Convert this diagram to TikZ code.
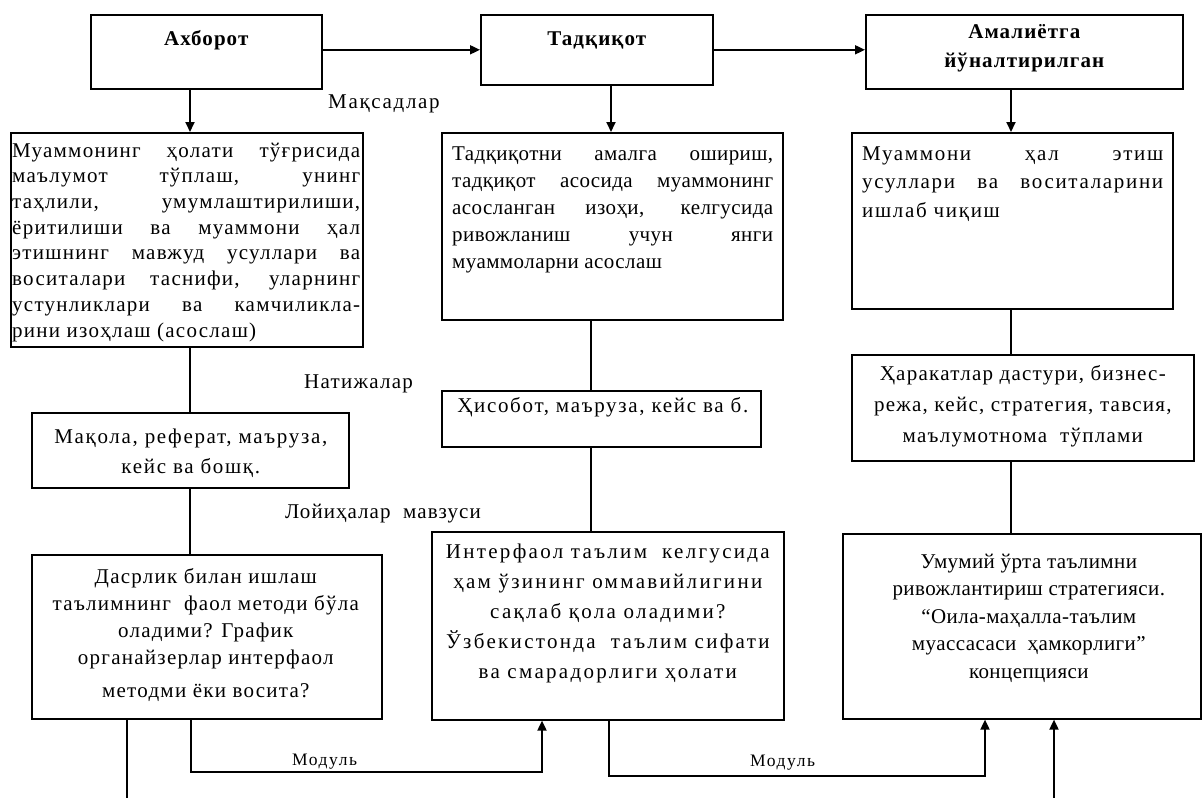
\documentclass[tikz,border=0pt]{standalone}
\usepackage{fontspec}
\setmainfont{Liberation Serif}
\usetikzlibrary{arrows.meta}
\tikzset{
  box/.style={draw, line width=1.6pt, rectangle, inner sep=0pt, anchor=north west},
  conn/.style={line width=1.5pt},
  arr/.style={line width=1.8pt, -{Triangle[length=10pt,width=9pt]}},
  txt/.style n args={3}{inner sep=0pt, font=\fontsize{#1}{#2}\selectfont\addfontfeatures{LetterSpace=#3}},
  head/.style={inner sep=0pt, font=\fontsize{21pt}{29pt}\selectfont\bfseries\addfontfeatures{LetterSpace=5}},
  lab/.style={inner sep=0pt, anchor=base west}
}
\newcommand{\jl}[2]{\makebox[#1][s]{\spaceskip=0pt\xspaceskip=0pt\strut #2}}
\begin{document}
\begin{tikzpicture}[x=1pt,y=-1pt]
\useasboundingbox (0,0) rectangle (1203,798);
\fill[white] (0,0) rectangle (1203,798);

% boxes
\node[box, minimum width=231pt, minimum height=74pt] (ax) at (90,14) {};
\node[box, minimum width=232pt, minimum height=70pt] (td) at (480,14) {};
\node[box, minimum width=317pt, minimum height=74pt] (am) at (865,14) {};
\node[box, minimum width=352pt, minimum height=214pt] (l1) at (10,132) {};
\node[box, minimum width=341pt, minimum height=187pt] (m1) at (441,132) {};
\node[box, minimum width=321pt, minimum height=176pt] (r1) at (851,132) {};
\node[box, minimum width=317pt, minimum height=75pt] (l2) at (31,412) {};
\node[box, minimum width=319pt, minimum height=56pt] (m2) at (441,390) {};
\node[box, minimum width=342pt, minimum height=106pt] (r2) at (851,354) {};
\node[box, minimum width=350pt, minimum height=164pt] (l3) at (31,554) {};
\node[box, minimum width=352pt, minimum height=188pt] (m3) at (431,531) {};
\node[box, minimum width=358pt, minimum height=185pt] (r3) at (842,533) {};

% headers
\node[head, anchor=base] (axt) at ([yshift=-31pt]ax.north) {Ахборот};
\node[head, anchor=base] (tdt) at ([yshift=-31pt]td.north) {Тадқиқот};
\node[head, anchor=north, align=center] (amt) at ([yshift=-3.7pt]am.north) {\strut Амалиётга\\\strut йўналтирилган};

% box texts
\node[txt={21pt}{25.7pt}{6}, anchor=north west, text width=348pt, align=justify] (l1t) at ([xshift=2pt,yshift=-7pt]l1.north west)
 {\jl{348pt}{Муаммонинг ҳолати тўғрисида}\\
  \jl{348pt}{маълумот тўплаш, унинг}\\
  \jl{348pt}{таҳлили, умумлаштирилиши,}\\
  \jl{348pt}{ёритилиши ва муаммони ҳал}\\
  \jl{348pt}{этишнинг мавжуд усуллари ва}\\
  \jl{348pt}{воситалари таснифи, уларнинг}\\
  \jl{348pt}{устунликлари ва камчиликла-}\\
  \strut рини изоҳлаш (асослаш)};

\node[txt={21pt}{27pt}{2}, anchor=north west, text width=321pt, align=justify] (m1t) at ([xshift=11pt,yshift=-9pt]m1.north west)
 {\jl{321pt}{Тадқиқотни амалга ошириш,}\\
  \jl{321pt}{тадқиқот асосида муаммонинг}\\
  \jl{321pt}{асосланган изоҳи, келгусида}\\
  \jl{321pt}{ривожланиш учун янги}\\
  \strut муаммоларни асослаш};

\node[txt={21pt}{28.5pt}{8}, anchor=north west, text width=301pt, align=justify] (r1t) at ([xshift=11pt,yshift=-8pt]r1.north west)
 {\jl{301pt}{Муаммони ҳал этиш}\\
  \jl{301pt}{усуллари ва воситаларини}\\
  \strut ишлаб чиқиш};

\node[txt={21pt}{30pt}{8}, anchor=north, align=center] (l2t) at ([xshift=0.5pt,yshift=-10pt]l2.north)
 {\strut Мақола, реферат, маъруза,\\ \strut кейс ва бошқ.};

\node[txt={21pt}{26pt}{8}, anchor=north, align=center] (m2t) at ([xshift=1.5pt,yshift=-3.8pt]m2.north)
 {\strut Ҳисобот, маъруза, кейс ва б.};

\node[txt={21pt}{31pt}{6}, anchor=north, align=center] (r2t) at ([yshift=-4.3pt]r2.north)
 {\strut Ҳаракатлар дастури, бизнес-\\ \strut режа, кейс, стратегия, тавсия,\\ \strut маълумотнома\ \ тўплами};

\node[txt={21pt}{27pt}{6}, anchor=north, align=center] (l3t) at ([xshift=-1pt,yshift=-10pt]l3.north)
 {\strut Дасрлик билан ишлаш\\ \strut таълимнинг\ \ фаол методи бўла\\ \strut оладими? График\\ \strut органайзерлар интерфаол\\[6pt] \strut методми ёки восита?};

\node[txt={21pt}{30pt}{11}, anchor=north, align=center] (m3t) at ([yshift=-6pt]m3.north)
 {\strut Интерфаол таълим\ \ келгусида\\ \strut ҳам ўзининг оммавийлигини\\ \strut сақлаб қола оладими?\\ \strut Ўзбекистонда\ \ таълим сифати\\ \strut ва смарадорлиги ҳолати};

\node[txt={21pt}{27.5pt}{2}, anchor=north, align=center] (r3t) at ([xshift=7pt,yshift=-15.75pt]r3.north)
 {\strut Умумий ўрта таълимни\\ \strut ривожлантириш стратегияси.\\ \strut “Оила-маҳалла-таълим\\ \strut муассасаси\ \ ҳамкорлиги”\\ \strut концепцияси};

% labels
\node[lab, txt={21pt}{24pt}{8}, anchor=base west] (lm) at (328,108) {Мақсадлар};
\node[lab, txt={21pt}{24pt}{6}, anchor=base west] (ln) at (304,388) {Натижалар};
\node[lab, txt={21pt}{24pt}{5}, anchor=base west] (lp) at (285,518) {Лойиҳалар\ \ мавзуси};
\node[lab, txt={17.5pt}{20pt}{9}, anchor=base west] (mod1) at (292,765) {Модуль};
\node[lab, txt={17.5pt}{20pt}{9}, anchor=base west] (mod2) at (750,766) {Модуль};

% connectors
\draw[arr] (ax.east |- td.west) -- (td.west);
\draw[arr] (td.east) -- (td.east -| am.west);

\coordinate (xL) at (190,0);
\draw[arr] (xL |- ax.south) -- (xL |- l1.north);
\draw[conn] (xL |- l1.south) -- (xL |- l2.north);
\draw[conn] (xL |- l2.south) -- (xL |- l3.north);

\coordinate (xM) at (611,0);
\draw[arr] (xM |- td.south) -- (xM |- m1.north);
\coordinate (xM2) at (591,0);
\draw[conn] (xM2 |- m1.south) -- (xM2 |- m2.north);
\draw[conn] (xM2 |- m2.south) -- (xM2 |- m3.north);

\coordinate (xR) at (1011,0);
\draw[arr] (xR |- am.south) -- (xR |- r1.north);
\draw[conn] (xR |- r1.south) -- (xR |- r2.north);
\draw[conn] (xR |- r2.south) -- (xR |- r3.north);

\coordinate (b1) at (127,798);
\draw[conn] (b1 |- l3.south) -- (b1);
\coordinate (b2) at (191,772);
\coordinate (b3) at (542,772);
\draw[arr] (b2 |- l3.south) -- (b2) -- (b3) -- (b3 |- m3.south);
\coordinate (b4) at (609,776);
\coordinate (b5) at (985,776);
\draw[arr] (b4 |- m3.south) -- (b4) -- (b5) -- (b5 |- r3.south);
\coordinate (b6) at (1054,798);
\draw[arr] (b6) -- (b6 |- r3.south);
\end{tikzpicture}
\end{document}
